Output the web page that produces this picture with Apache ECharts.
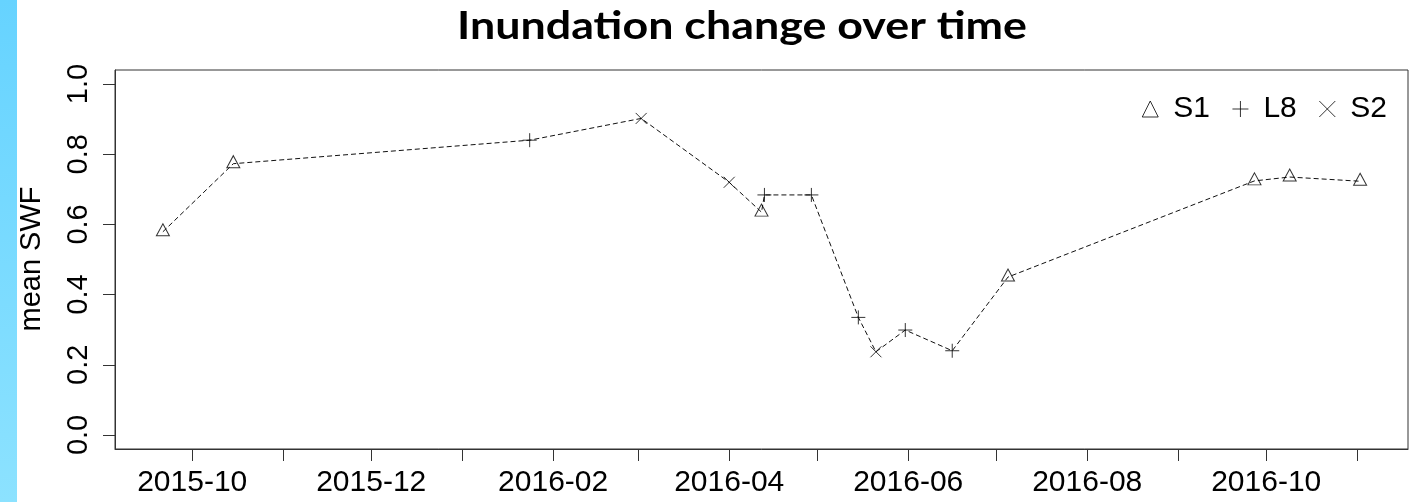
<!DOCTYPE html>
<html>
<head>
<meta charset="utf-8">
<title>Inundation change over time</title>
<script src="https://cdn.jsdelivr.net/npm/echarts@6/dist/echarts.min.js"></script>
<style>
  html, body { margin: 0; padding: 0; background: #fff; }
  #chart { width: 1422px; height: 502px; }
</style>
</head>
<body>
<div id="chart"></div>
<script>
// Mean surface water fraction per acquisition, grouped by sensor
const s1Dates  = ['2015-09-21', '2015-10-15', '2016-04-12', '2016-07-05', '2016-09-27', '2016-10-09', '2016-11-02'];
const s1Values = [0.579, 0.773, 0.635, 0.450, 0.724, 0.735, 0.723];

const l8Dates  = ['2016-01-24', '2016-04-13', '2016-04-29', '2016-05-15', '2016-05-31', '2016-06-16'];
const l8Values = [0.840, 0.684, 0.684, 0.335, 0.299, 0.240];

const s2Dates  = ['2016-03-02', '2016-04-01', '2016-05-21'];
const s2Values = [0.902, 0.720, 0.237];

// Axis ticks
const monthTicks = ['2015-10-01', '2015-11-01', '2015-12-01', '2016-01-01', '2016-02-01', '2016-03-01',
                    '2016-04-01', '2016-05-01', '2016-06-01', '2016-07-01', '2016-08-01', '2016-09-01',
                    '2016-10-01', '2016-11-01'];
const xTickLabels = ['2015-10', '2015-12', '2016-02', '2016-04', '2016-06', '2016-08', '2016-10'];
const yTicks = [0.0, 0.2, 0.4, 0.6, 0.8, 1.0];

const toTime = d => Date.parse(d + 'T00:00:00Z');
const pairs = (dates, values) => dates.map((d, i) => [toTime(d), values[i]]);

const s1 = pairs(s1Dates, s1Values);
const l8 = pairs(l8Dates, l8Values);
const s2 = pairs(s2Dates, s2Values);
const allPoints = s1.concat(l8, s2).sort((a, b) => a[0] - b[0]);

// pad the time range by 4% on each side, like base R plots
const tFirst = allPoints[0][0];
const tLast = allPoints[allPoints.length - 1][0];
const tPad = (tLast - tFirst) * 0.04;

const monthLabel = v => {
  const d = new Date(v);
  return d.getUTCFullYear() + '-' + String(d.getUTCMonth() + 1).padStart(2, '0');
};

const AXIS_COLOR = '#333';
const FONT = '"Liberation Sans", Arial, sans-serif';

// title: bold humanist face, fitted to a fixed width
const TITLE = 'Inundation change over time';
const TITLE_FONT = 'bold 39px Lato';
const measureCtx = document.createElement('canvas').getContext('2d');
measureCtx.font = TITLE_FONT;
const titleScale = 570 / measureCtx.measureText(TITLE).width;

const markerStyle = { color: 'rgba(0,0,0,0)', borderColor: '#000', borderWidth: 1 };

const chart = echarts.init(document.getElementById('chart'));
chart.setOption({
  animation: false,
  backgroundColor: '#fff',
  grid: {
    left: 115, right: 14, top: 70, bottom: 53,
    show: true, borderColor: AXIS_COLOR, borderWidth: 1,
    containLabel: false, outerBoundsMode: 'none'
  },
  legend: {
    data: ['S1', 'L8', 'S2'],
    right: 30, top: 89,
    itemWidth: 16, itemHeight: 16, itemGap: 22,
    itemStyle: { borderWidth: 1, borderColor: '#000', color: 'rgba(0,0,0,0)' },
    textStyle: { fontFamily: FONT, fontSize: 30, color: '#000', padding: [0, 0, 0, 10] },
    selectedMode: false
  },
  xAxis: {
    // time in milliseconds (UTC) on a linear scale
    type: 'value',
    min: tFirst - tPad,
    max: tLast + tPad,
    axisLine: { show: true, onZero: false, lineStyle: { color: AXIS_COLOR, width: 1 } },
    axisTick: { show: true, inside: false, length: 12, customValues: monthTicks.map(toTime),
                lineStyle: { color: AXIS_COLOR, width: 1 } },
    axisLabel: { customValues: xTickLabels.map(m => toTime(m + '-01')), formatter: monthLabel,
                 fontFamily: FONT, fontSize: 30, color: '#000', margin: 19, hideOverlap: false },
    splitLine: { show: false }
  },
  yAxis: {
    type: 'value',
    min: -0.04, max: 1.04,
    axisLine: { show: true, lineStyle: { color: AXIS_COLOR, width: 1 } },
    axisTick: { show: true, inside: false, length: 12, customValues: yTicks,
                lineStyle: { color: AXIS_COLOR, width: 1 } },
    axisLabel: { customValues: yTicks, formatter: v => v.toFixed(1), rotate: 90,
                 fontFamily: FONT, fontSize: 29, color: '#000', margin: 22 },
    splitLine: { show: false }
  },
  graphic: [
    {
      type: 'rect', left: 0, top: 0, silent: true,
      shape: { width: 17, height: 502 },
      style: { fill: new echarts.graphic.LinearGradient(0, 0, 0, 1, [
        { offset: 0, color: '#66d3ff' }, { offset: 1, color: '#8ce2ff' }]) }
    },
    {
      type: 'text', x: 742, y: 26, scaleX: titleScale, silent: true,
      style: { text: TITLE, font: TITLE_FONT, fill: '#000', align: 'center', verticalAlign: 'middle' }
    },
    {
      type: 'text', x: 32, y: 259, rotation: Math.PI / 2, silent: true,
      style: { text: 'mean SWF', font: '29px ' + FONT, fill: '#000', align: 'center', verticalAlign: 'middle' }
    }
  ],
  series: [
    {
      name: 'all', type: 'line', data: allPoints,
      symbol: 'none', showSymbol: false, silent: true, z: 1,
      lineStyle: { color: '#111', width: 1, type: [5, 3] }
    },
    {
      name: 'S1', type: 'scatter', data: s1, z: 3,
      symbol: 'triangle', symbolSize: [13, 12], symbolOffset: [0, -2],
      itemStyle: markerStyle
    },
    {
      name: 'L8', type: 'scatter', data: l8, z: 3,
      symbol: 'path://M0,7H14M7,0V14', symbolSize: 14,
      itemStyle: markerStyle
    },
    {
      name: 'S2', type: 'scatter', data: s2, z: 3,
      symbol: 'path://M0,0L10,10M10,0L0,10', symbolSize: 11,
      itemStyle: markerStyle
    }
  ]
});
</script>
</body>
</html>
